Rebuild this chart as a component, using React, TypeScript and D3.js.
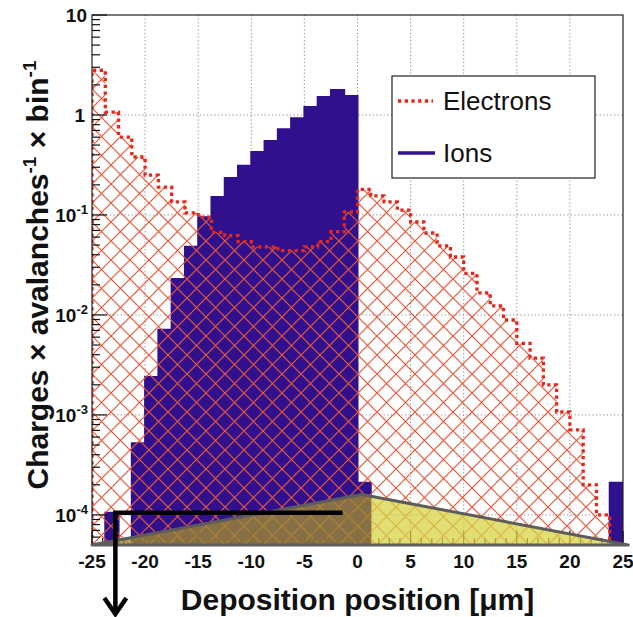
import React from "react";
import * as d3 from "d3";

// Histogram binning: 40 bins of 1.25 µm between -25 and 25 µm
const binEdges = d3.range(41).map((i) => -25 + i * 1.25);

// Ion charge deposition per bin
const ionValues = [
  0, 1.05e-4, 0, 5.2e-4, 2.4e-3, 7.1e-3, 0.0229, 0.048, 0.095, 0.151,
  0.234, 0.31, 0.427, 0.55, 0.72, 0.93, 1.2, 1.51, 1.78, 1.55,
  2.1e-4, 0, 0, 0, 0, 0, 0, 0, 0, 0,
  0, 0, 0, 0, 0, 0, 0, 0, 0, 2.1e-4,
];

// Electron charge deposition per bin
const electronValues = [
  2.8, 1.07, 0.6, 0.38, 0.25, 0.19, 0.135, 0.105, 0.095, 0.067,
  0.062, 0.054, 0.048, 0.048, 0.044, 0.044, 0.048, 0.054, 0.068, 0.107,
  0.18, 0.155, 0.135, 0.112, 0.085, 0.066, 0.049, 0.038, 0.026, 0.0166,
  0.0123, 0.0089, 0.0052, 0.0037, 0.002, 0.00107, 0.00071, 0.0002, 0.0001, 0,
];

const xTickValues = [-25, -20, -15, -10, -5, 0, 5, 10, 15, 20, 25];
const yDecades = [-4, -3, -2, -1, 0, 1];

// Gap-profile shading (position, value) and the split between its two tones
const shadeProfile: [number, number][] = [
  [-25, 5e-5],
  [0.4, 1.6e-4],
  [25.5, 5e-5],
];
const shadeSplit = 1.25;

// Drift arrow: horizontal run at this level between the two positions
const arrowLevel = 1.05e-4;
const arrowFrom = -1.4;
const arrowTo = -22.8;

const W = 633;
const H = 617;
const plot = { left: 92, right: 623, top: 15, bottom: 545 };

const FONT = "'Liberation Sans', Arial, Helvetica, sans-serif";
const ION_COLOR = "#30108c";
const ELECTRON_COLOR = "#e3291b";
const HATCH_COLOR = "#e6583a";
const HATCH = 19;

export default function App() {
  const x = d3.scaleLinear().domain([-25, 25]).range([plot.left, plot.right]);
  const y = d3.scaleLog().domain([5e-5, 10]).range([plot.bottom, plot.top]);
  const yMin = 5e-5;
  const yv = (v: number) => (v > yMin ? y(v) : y(yMin));

  const stepPoints = (vals: number[]) => {
    const pts: [number, number][] = [[binEdges[0], 0]];
    vals.forEach((v, i) => {
      pts.push([binEdges[i], v]);
      pts.push([binEdges[i + 1], v]);
    });
    pts.push([binEdges[binEdges.length - 1], 0]);
    return pts;
  };

  const area = d3
    .area<[number, number]>()
    .x((d) => x(d[0]))
    .y0(y(yMin))
    .y1((d) => yv(d[1]));
  const line = d3
    .line<[number, number]>()
    .x((d) => x(d[0]))
    .y((d) => yv(d[1]));

  const ionPts = stepPoints(ionValues);
  const elPts = stepPoints(electronValues);

  // minor ticks
  const yMinor: number[] = [];
  for (let k = -5; k <= 0; k++) {
    for (let m = 2; m <= 9; m++) {
      const v = m * Math.pow(10, k);
      if (v >= yMin && v <= 10) yMinor.push(v);
    }
  }
  const xMinor = d3.range(-25, 26, 1).filter((v) => v % 5 !== 0);

  const shadeLine = d3
    .line<[number, number]>()
    .x((d) => x(d[0]))
    .y((d) => y(d[1]));
  const shadePath = shadeLine(shadeProfile) + "Z";

  const ax0 = x(arrowFrom);
  const ax1 = x(arrowTo);
  const ay = y(arrowLevel);
  const arrowBottom = plot.bottom + 69;

  const legendX = 392;
  const legendY = 76;
  const h = HATCH;

  return (
    <svg
      width={W}
      height={H}
      style={{ position: "absolute", left: 0, top: 0, background: "#fff" }}
      fontFamily={FONT}
    >
      <defs>
        <pattern id="hatch" patternUnits="userSpaceOnUse" width={h} height={h} x={plot.left} y={plot.bottom}>
          <path
            d={`M0,0 L${h},${h} M0,${h} L${h},0 M-2,2 L2,-2 M${h - 2},${h + 2} L${h + 2},${h - 2} M-2,${h - 2} L2,${h + 2} M${h - 2},-2 L${h + 2},2`}
            stroke={HATCH_COLOR}
            strokeWidth={1.2}
            fill="none"
          />
        </pattern>
        <clipPath id="plotClip">
          <rect x={plot.left} y={plot.top} width={plot.right - plot.left} height={plot.bottom - plot.top} />
        </clipPath>
        <clipPath id="shadeLeft">
          <rect x={0} y={0} width={x(shadeSplit)} height={H} />
        </clipPath>
        <clipPath id="shadeRight">
          <rect x={x(shadeSplit)} y={0} width={W} height={H} />
        </clipPath>
      </defs>

      <rect x={0} y={0} width={W} height={H} fill="#fff" />

      {/* grid */}
      <g stroke="#8a8a8a" strokeWidth={1} strokeDasharray="1.2,2.4">
        {xTickValues.slice(1, -1).map((v) => (
          <line key={"gx" + v} x1={x(v)} x2={x(v)} y1={plot.top} y2={plot.bottom} />
        ))}
        {yDecades.slice(0, -1).map((k) => (
          <line key={"gy" + k} x1={plot.left} x2={plot.right} y1={y(Math.pow(10, k))} y2={y(Math.pow(10, k))} />
        ))}
      </g>

      <g clipPath="url(#plotClip)">
        {/* ions */}
        <path d={area(ionPts) || ""} fill={ION_COLOR} />
        <path d={line(ionPts) || ""} fill="none" stroke={ION_COLOR} strokeWidth={2} />
        {/* electrons */}
        <path d={area(elPts) || ""} fill="url(#hatch)" />
        <path
          d={line(elPts) || ""}
          fill="none"
          stroke={ELECTRON_COLOR}
          strokeWidth={3.3}
          strokeDasharray="3.3,3.4"
        />
      </g>

      {/* frame and axes */}
      <rect
        x={plot.left}
        y={plot.top}
        width={plot.right - plot.left}
        height={plot.bottom - plot.top}
        fill="none"
        stroke="#222"
        strokeWidth={1.2}
      />
      <g stroke="#111" strokeWidth={1.2}>
        {yDecades.map((k) => (
          <line key={"ty" + k} x1={plot.left} x2={plot.left + 15} y1={y(Math.pow(10, k))} y2={y(Math.pow(10, k))} />
        ))}
        {yMinor.map((v, i) => (
          <line key={"tym" + i} x1={plot.left} x2={plot.left + 8} y1={y(v)} y2={y(v)} />
        ))}
        {xTickValues.map((v) => (
          <line key={"tx" + v} x1={x(v)} x2={x(v)} y1={plot.bottom} y2={plot.bottom - 14} />
        ))}
        {xMinor.map((v) => (
          <line key={"txm" + v} x1={x(v)} x2={x(v)} y1={plot.bottom} y2={plot.bottom - 7} />
        ))}
      </g>

      {/* gap profile shading */}
      <path d={shadePath} fill="rgba(160,140,50,0.78)" clipPath="url(#shadeLeft)" />
      <path d={shadePath} fill="rgba(215,212,70,0.75)" clipPath="url(#shadeRight)" />
      <path d={shadePath} fill="none" stroke="#5c5c5c" strokeWidth={3} strokeLinejoin="round" />

      {/* tick labels */}
      <g fontSize={19} fontWeight="bold" fill="#111">
        {xTickValues.map((v) => (
          <text key={"lx" + v} x={x(v)} y={568} textAnchor="middle">
            {v}
          </text>
        ))}
        {yDecades.map((k) => {
          const yy = y(Math.pow(10, k)) + 7;
          if (k === 1) {
            return (
              <text key={"ly" + k} x={87} y={yy} textAnchor="end">
                10
              </text>
            );
          }
          if (k === 0) {
            return (
              <text key={"ly" + k} x={85} y={yy} textAnchor="end">
                1
              </text>
            );
          }
          return (
            <text key={"ly" + k} x={88} y={yy} textAnchor="end">
              10
              <tspan fontSize={13} dy={-8}>
                {k}
              </tspan>
            </text>
          );
        })}
      </g>

      {/* legend */}
      <g>
        <rect x={legendX} y={legendY} width={203} height={102} fill="#fff" stroke="#222" strokeWidth={1.2} />
        <line
          x1={legendX + 6}
          x2={legendX + 41}
          y1={legendY + 25}
          y2={legendY + 25}
          stroke={ELECTRON_COLOR}
          strokeWidth={3.3}
          strokeDasharray="3.3,3.4"
        />
        <text x={legendX + 51} y={legendY + 34} fontSize={26} fill="#111">
          Electrons
        </text>
        <line x1={legendX + 6} x2={legendX + 43} y1={legendY + 77} y2={legendY + 77} stroke={ION_COLOR} strokeWidth={3.5} />
        <text x={legendX + 51} y={legendY + 86} fontSize={26} fill="#111">
          Ions
        </text>
      </g>

      {/* drift arrow */}
      <g stroke="#000" strokeWidth={4.5} fill="none">
        <path d={`M${ax0},${ay} H${ax1} V${arrowBottom}`} strokeLinejoin="miter" />
        <path d={`M${ax1 - 11},${arrowBottom - 16} L${ax1},${arrowBottom} L${ax1 + 11},${arrowBottom - 16}`} />
      </g>

      {/* axis titles */}
      <text x={(plot.left + plot.right) / 2} y={610} textAnchor="middle" fontSize={30} fontWeight="bold" fill="#111">
        Deposition position [μm]
      </text>
      <text
        transform={`translate(48, 275) rotate(-90)`}
        textAnchor="middle"
        fontSize={30}
        fontWeight="bold"
        fill="#111"
      >
        Charges × avalanches
        <tspan fontSize={19} dy={-12}>
          -1
        </tspan>
        <tspan dy={12}> × bin</tspan>
        <tspan fontSize={19} dy={-12}>
          -1
        </tspan>
      </text>
    </svg>
  );
}
